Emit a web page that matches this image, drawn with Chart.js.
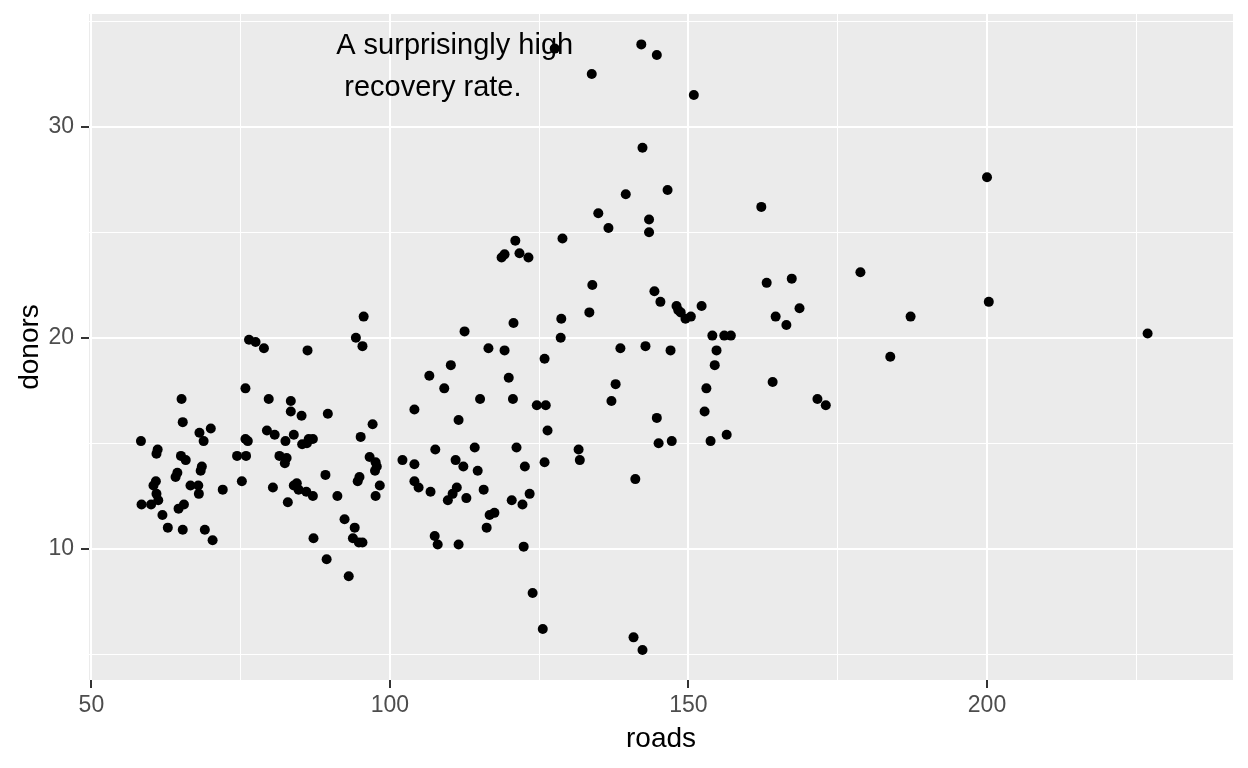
<!DOCTYPE html>
<html>
<head>
<meta charset="utf-8">
<script src="https://cdn.jsdelivr.net/npm/chart.js@4"></script>
<style>
  html, body { margin: 0; padding: 0; background: #ffffff; }
</style>
</head>
<body>
<canvas id="donorChart" width="1248" height="768"></canvas>
<script>

// roads (x) and donors (y)
var roads = [
  76.4, 77.5, 78.9, 86.2, 75.8, 65.1, 79.7, 83.4, 83.4, 85.2, 65.3, 70.0, 68.1, 68.8, 58.3, 79.4, 80.7, 75.8, 76.2, 82.5, 83.9,
  85.3, 86.1, 86.4, 87.1,
  60.9, 61.1, 65.0, 65.8, 68.5, 68.3, 64.4, 64.1, 60.8, 60.4, 60.9, 61.2, 58.4, 60.0, 61.9, 64.6, 65.5, 62.8, 65.3, 69.0, 70.3,
  66.6, 67.9, 68.0, 72.0, 75.2, 74.4, 75.9, 80.4, 81.5, 82.7, 82.4, 82.9, 83.9, 84.4, 84.7, 86.0, 87.1,
  95.6, 94.3, 95.4, 112.5, 110.2, 106.6, 109.1, 115.1, 89.6, 97.1, 95.1, 104.1, 111.5, 107.6, 114.2, 102.1, 104.1, 111.0, 112.3,
  114.7, 96.6, 97.6, 97.8, 97.5, 89.2, 94.9, 94.6, 98.3, 91.2, 97.6, 104.1, 104.8, 106.8, 111.2, 110.5, 109.7, 112.8, 92.4,
  94.1, 93.8, 94.8, 95.4, 87.2, 107.5, 108.0, 111.5, 89.4, 93.1,
  134.9, 136.6, 121.0, 128.9, 121.7, 119.2, 118.7, 123.2, 133.9, 133.4, 128.7, 120.7, 128.6, 138.6, 116.5, 119.2, 125.9, 119.9,
  137.8, 120.6, 124.6, 126.1, 137.1, 126.4,
  121.2, 131.6, 131.8, 122.6, 125.9, 141.1, 115.7, 120.4, 123.4, 122.2, 116.7, 117.5, 116.2, 122.4, 123.9, 125.6, 140.8, 142.3,
  142.1, 144.7, 150.9, 142.3, 139.5, 146.5, 162.2, 143.4, 143.4, 163.1, 167.3, 144.3, 127.6, 133.8,
  145.3, 148.0, 148.3, 148.7, 149.5, 150.4, 152.2, 168.6, 164.6, 166.4, 154.0, 156.0, 157.1, 154.7, 154.4, 142.8, 147.0, 153.0,
  164.1, 171.6, 152.7, 144.7, 145.0, 147.2, 153.7, 156.4,
  200.0, 178.8, 200.3, 187.2, 226.9, 183.8, 173.0
];
var donors = [
  19.9, 19.8, 19.5, 19.4, 17.6, 17.1, 17.1, 17.0, 16.5, 16.3, 16.0, 15.7, 15.5, 15.1, 15.1, 15.6, 15.4, 15.2, 15.1, 15.1, 15.4,
  14.95, 15.0, 15.2, 15.2,
  14.5, 14.7, 14.4, 14.2, 13.9, 13.7, 13.6, 13.4, 13.2, 13.0, 12.6, 12.3, 12.1, 12.1, 11.6, 11.9, 12.1, 11.0, 10.9, 10.9, 10.4,
  13.0, 13.0, 12.6, 12.8, 13.2, 14.4, 14.4, 12.9, 14.4, 14.3, 14.05, 12.2, 13.0, 13.1, 12.8, 12.7, 12.5,
  21.0, 20.0, 19.6, 20.3, 18.7, 18.2, 17.6, 17.1, 16.4, 15.9, 15.3, 16.6, 16.1, 14.7, 14.8, 14.2, 14.0, 14.2, 13.9,
  13.7, 14.35, 14.1, 13.9, 13.7, 13.5, 13.4, 13.2, 13.0, 12.5, 12.5, 13.2, 12.9, 12.7, 12.9, 12.6, 12.3, 12.4, 11.4,
  11.0, 10.5, 10.3, 10.3, 10.5, 10.6, 10.2, 10.2, 9.5, 8.7,
  25.9, 25.2, 24.6, 24.7, 24.0, 23.95, 23.8, 23.8, 22.5, 21.2, 20.9, 20.7, 20.0, 19.5, 19.5, 19.4, 19.0, 18.1,
  17.8, 17.1, 16.8, 16.8, 17.0, 15.6,
  14.8, 14.7, 14.2, 13.9, 14.1, 13.3, 12.8, 12.3, 12.6, 12.1, 11.6, 11.7, 11.0, 10.1, 7.9, 6.2, 5.8, 5.2,
  33.9, 33.4, 31.5, 29.0, 26.8, 27.0, 26.2, 25.6, 25.0, 22.6, 22.8, 22.2, 33.7, 32.5,
  21.7, 21.5, 21.3, 21.2, 20.9, 21.0, 21.5, 21.4, 21.0, 20.6, 20.1, 20.1, 20.1, 19.4, 18.7, 19.6, 19.4, 17.6,
  17.9, 17.1, 16.5, 16.2, 15.0, 15.1, 15.1, 15.4,
  27.6, 23.1, 21.7, 21.0, 20.2, 19.1, 16.8
];

var xMajorTicks = [50, 100, 150, 200];
var xMinorTicks = [75, 125, 175, 225];
var yMajorTicks = [10, 20, 30];
var yMinorTicks = [5, 15, 25, 35];

var noteLines = ['A surprisingly high', ' recovery rate.'];
var noteX = 91;
var noteY = 32.9;

var fontName = '"Liberation Sans", Arial, sans-serif';

function buildTicks(major, minor) {
  return major.concat(minor).sort(function(a, b){ return a - b; }).map(function(v){ return {value: v}; });
}

var points = roads.map(function(r, i){ return {x: r, y: donors[i]}; });

// grey panel behind everything
var panelBg = {
  id: 'panelBg',
  beforeDraw: function(chart){
    var a = chart.chartArea, c = chart.ctx;
    c.save();
    c.fillStyle = '#EBEBEB';
    c.fillRect(a.left, a.top, a.right - a.left, a.bottom - a.top);
    c.restore();
  }
};

// the text annotation
var noteText = {
  id: 'noteText',
  afterDatasetsDraw: function(chart){
    var c = chart.ctx;
    var px = chart.scales.x.getPixelForValue(noteX);
    var py = chart.scales.y.getPixelForValue(noteY);
    c.save();
    c.fillStyle = '#000000';
    c.font = '29px ' + fontName;
    c.textAlign = 'left';
    c.textBaseline = 'alphabetic';
    c.fillText(noteLines[0], px, py - 11.5);
    c.fillText(noteLines[1], px, py + 30.5);
    c.restore();
  }
};

var ctx = document.getElementById('donorChart').getContext('2d');
var chart = new Chart(ctx, {
  type: 'scatter',
  data: {
    datasets: [{
      label: 'donors',
      data: points,
      backgroundColor: '#000000',
      borderWidth: 0,
      pointRadius: 5,
      pointHoverRadius: 5
    }]
  },
  options: {
    responsive: false,
    animation: false,
    events: [],
    layout: { padding: { top: 14, right: 15, left: 0, bottom: 0 } },
    plugins: {
      legend: { display: false },
      tooltip: { enabled: false }
    },
    scales: {
      x: {
        type: 'linear',
        min: 49.6,
        max: 241.2,
        border: { display: false },
        afterBuildTicks: function(scale){ scale.ticks = buildTicks(xMajorTicks, xMinorTicks); },
        afterFit: function(scale){ scale.height = 88; scale.paddingLeft = 0; scale.paddingRight = 0; },
        grid: {
          color: '#FFFFFF',
          lineWidth: function(c){ return xMajorTicks.indexOf(c.tick.value) >= 0 ? 2 : 1; },
          tickColor: function(c){ return xMajorTicks.indexOf(c.tick.value) >= 0 ? '#333333' : 'rgba(0,0,0,0)'; },
          tickWidth: 2,
          tickLength: 8
        },
        ticks: {
          autoSkip: false,
          maxRotation: 0,
          padding: 4,
          color: '#4D4D4D',
          font: { family: fontName, size: 23 },
          callback: function(v){ return xMajorTicks.indexOf(v) >= 0 ? String(v) : ''; }
        },
        title: {
          display: true,
          text: 'roads',
          color: '#000000',
          font: { family: fontName, size: 28 },
          padding: { top: 0, bottom: 12 }
        }
      },
      y: {
        type: 'linear',
        min: 3.78,
        max: 35.34,
        border: { display: false },
        afterBuildTicks: function(scale){ scale.ticks = buildTicks(yMajorTicks, yMinorTicks); },
        afterFit: function(scale){ scale.width = 89; scale.paddingTop = 0; scale.paddingBottom = 0; },
        grid: {
          color: '#FFFFFF',
          lineWidth: function(c){ return yMajorTicks.indexOf(c.tick.value) >= 0 ? 2 : 1; },
          tickColor: function(c){ return yMajorTicks.indexOf(c.tick.value) >= 0 ? '#333333' : 'rgba(0,0,0,0)'; },
          tickWidth: 2,
          tickLength: 8
        },
        ticks: {
          autoSkip: false,
          padding: 7,
          color: '#4D4D4D',
          font: { family: fontName, size: 23 },
          callback: function(v){ return yMajorTicks.indexOf(v) >= 0 ? String(v) : ''; }
        },
        title: {
          display: true,
          text: 'donors',
          color: '#000000',
          font: { family: fontName, size: 28 },
          padding: { top: 13, bottom: 0 }
        }
      }
    }
  },
  plugins: [panelBg, noteText]
});
</script>
</body>
</html>
